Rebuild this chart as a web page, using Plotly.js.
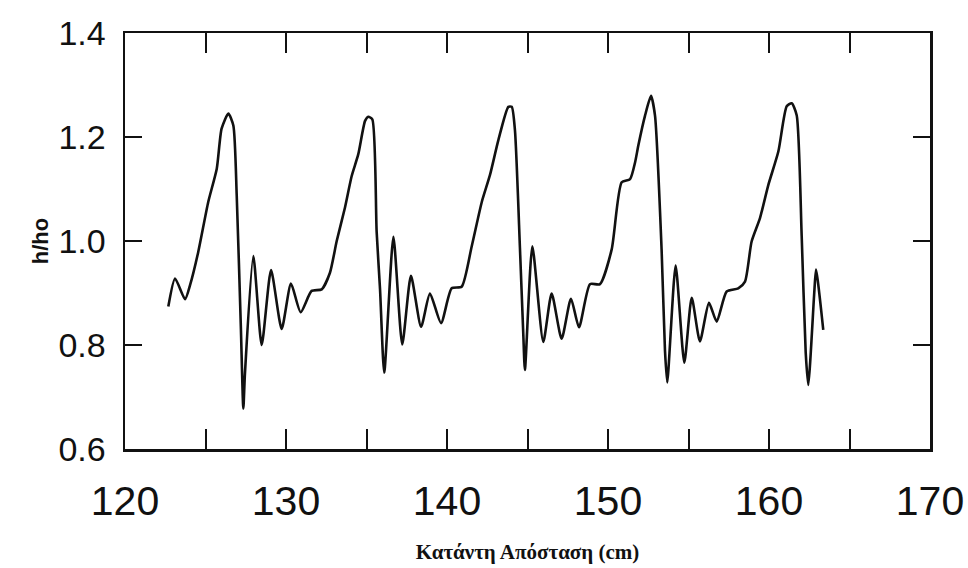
<!DOCTYPE html>
<html>
<head>
<meta charset="utf-8">
<script src="https://cdn.plot.ly/plotly-3.0.1.min.js"></script>
<style>html,body{margin:0;padding:0;background:#fff;}#chart{width:968px;height:568px;}</style>
</head>
<body>
<div id="chart"></div>
<script>
// Downstream distance (cm)
const distance = [122.69, 123.11, 123.73, 124.04, 124.55, 125.17, 125.70, 126.00, 126.42, 126.73,
  126.94, 127.20, 127.35, 127.45, 127.97, 128.49, 129.07, 129.73, 130.31, 130.91,
  131.59, 132.22, 132.73, 133.15, 133.66, 134.08, 134.49, 134.91, 135.11, 135.36,
  135.63, 135.84, 136.10, 136.67, 137.22, 137.76, 138.39, 138.94, 139.63, 140.29,
  140.91, 141.53, 142.16, 142.67, 143.19, 143.81, 144.02, 144.22, 144.53, 144.74,
  144.84, 145.30, 145.98, 146.50, 147.12, 147.70, 148.20, 148.88, 149.50, 150.23,
  150.85, 151.37, 151.68, 151.88, 152.30, 152.67, 152.92, 153.33, 153.54, 153.68,
  154.20, 154.74, 155.20, 155.71, 156.27, 156.75, 157.37, 158.09, 158.51, 158.92,
  159.44, 159.96, 160.58, 161.10, 161.41, 161.72, 162.03, 162.28, 162.44, 162.81,
  162.92, 163.37];
// Relative depth h/ho
const hRatio = [0.874, 0.928, 0.888, 0.915, 0.979, 1.075, 1.139, 1.216, 1.245, 1.222,
  1.087, 0.830, 0.678, 0.745, 0.971, 0.800, 0.944, 0.831, 0.918, 0.863,
  0.904, 0.907, 0.939, 1.000, 1.064, 1.125, 1.167, 1.231, 1.239, 1.234,
  1.018, 0.908, 0.747, 1.008, 0.801, 0.933, 0.835, 0.899, 0.842, 0.909,
  0.912, 0.989, 1.075, 1.127, 1.194, 1.258, 1.258, 1.213, 0.987, 0.820,
  0.752, 0.990, 0.806, 0.899, 0.812, 0.889, 0.834, 0.917, 0.917, 0.984,
  1.113, 1.119, 1.151, 1.183, 1.241, 1.279, 1.241, 0.983, 0.789, 0.728,
  0.953, 0.766, 0.891, 0.807, 0.881, 0.845, 0.903, 0.909, 0.922, 0.999,
  1.044, 1.108, 1.172, 1.259, 1.265, 1.242, 1.010, 0.785, 0.723, 0.900,
  0.945, 0.829];

const xTickVals = [120, 125, 130, 135, 140, 145, 150, 155, 160, 165, 170];
const xTickText = ['120', '', '130', '', '140', '', '150', '', '160', '', '170'];
const yTickVals = [0.6, 0.8, 1.0, 1.2, 1.4];
const yTickText = ['0.6', '0.8', '1.0', '1.2', '1.4'];

const trace = {
  x: distance, y: hRatio, type: 'scatter', mode: 'lines',
  line: {color: '#111', width: 2.6, shape: 'spline', smoothing: 0.6}, hoverinfo: 'x+y'
};

const layout = {
  width: 968, height: 568,
  margin: {l: 125, r: 38, t: 33, b: 119},
  paper_bgcolor: '#fff', plot_bgcolor: '#fff',
  showlegend: false,
  xaxis: {
    range: [120, 170], tickmode: 'array', tickvals: xTickVals, ticktext: xTickText,
    showgrid: false, zeroline: false, showline: true, mirror: 'ticks',
    linecolor: '#111', linewidth: 2.5, ticks: 'inside', ticklen: 20, tickwidth: 2, tickcolor: '#111',
    tickfont: {family: 'Liberation Sans, Arial, sans-serif', size: 41, color: '#111'},
    ticklabelstandoff: 14,
    title: {text: 'Κατάντη Απόσταση (cm)', standoff: 22,
      font: {family: 'Liberation Serif, Times New Roman, serif', size: 21, color: '#111', weight: 'bold'}}
  },
  yaxis: {
    range: [0.6, 1.4], tickmode: 'array', tickvals: yTickVals, ticktext: yTickText,
    showgrid: false, zeroline: false, showline: true, mirror: 'ticks',
    linecolor: '#111', linewidth: 2.5, ticks: 'inside', ticklen: 17, tickwidth: 2, tickcolor: '#111',
    tickfont: {family: 'Liberation Sans, Arial, sans-serif', size: 34, color: '#111'},
    ticklabelstandoff: 10,
    title: {text: 'h/ho', standoff: 4,
      font: {family: 'Liberation Sans, Arial, sans-serif', size: 22, color: '#111', weight: 'bold'}}
  }
};

Plotly.newPlot('chart', [trace], layout, {displayModeBar: false, staticPlot: true});
</script>
</body>
</html>
